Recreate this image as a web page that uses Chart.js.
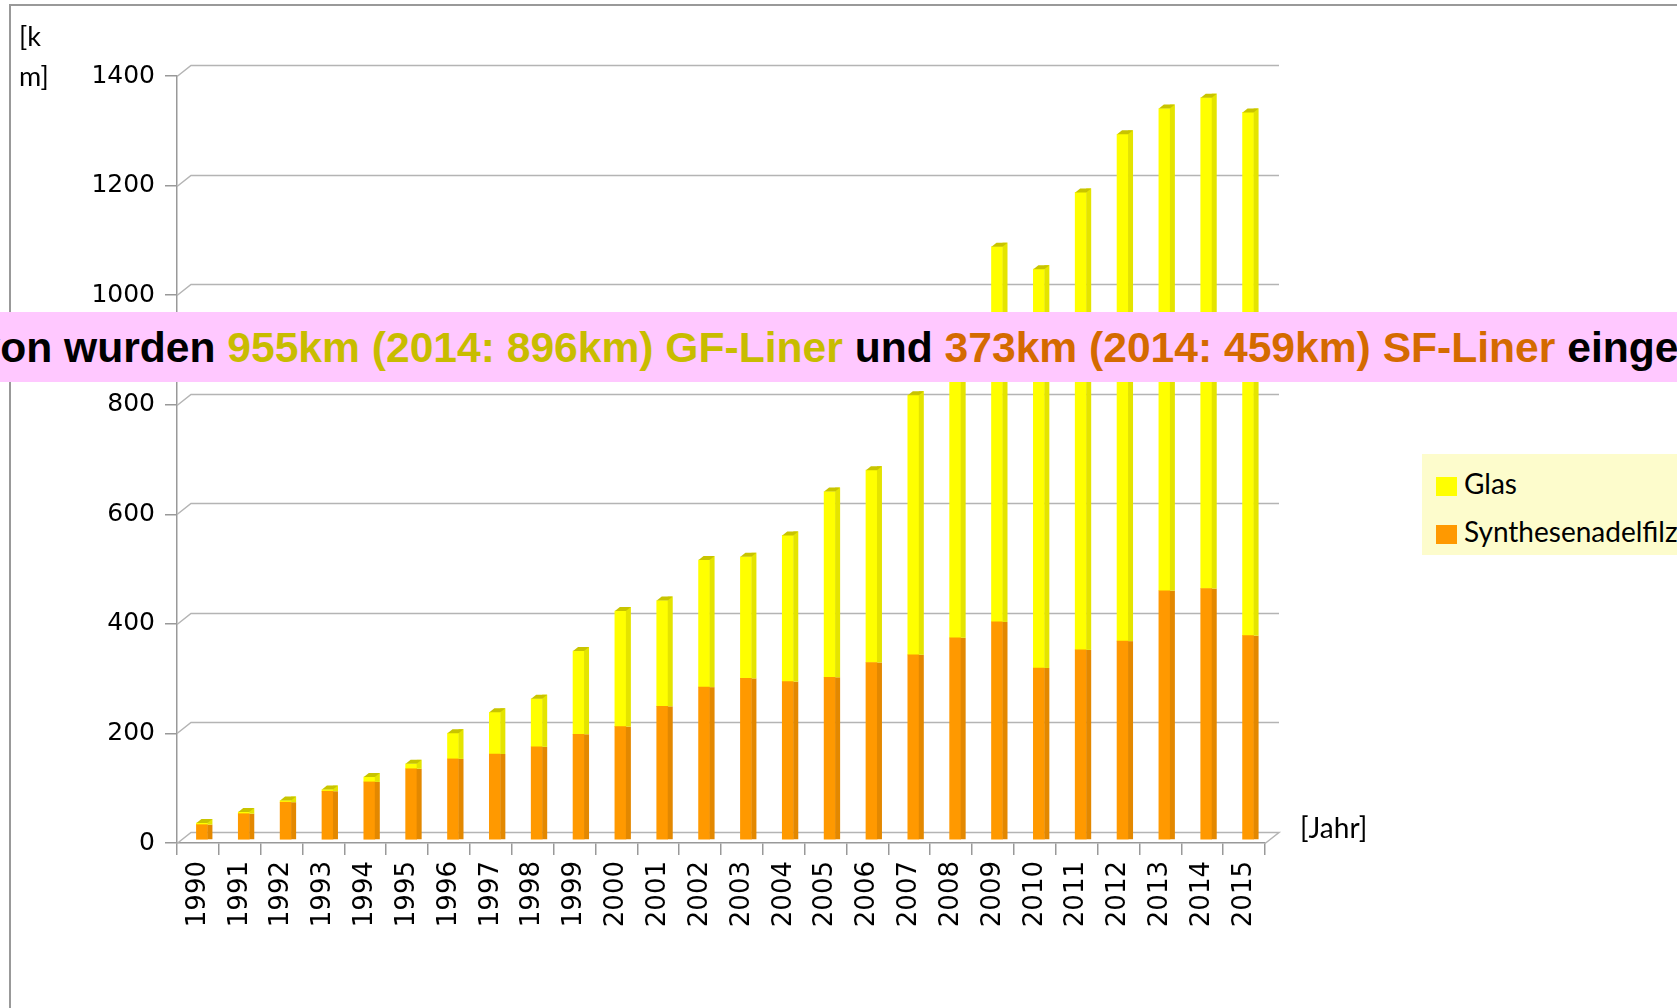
<!DOCTYPE html>
<html lang="de">
<head>
<meta charset="utf-8">
<title>Liner</title>
<script src="https://cdn.jsdelivr.net/npm/chart.js@4.4.1/dist/chart.umd.min.js"></script>
<style>
    html, body {
        margin: 0;
        padding: 0;
        width: 1677px;
        height: 1008px;
        overflow: hidden;
        background: #fff;
    }
    #frame {
        position: absolute;
        left: 9px;
        top: 4px;
        width: 1700px;
        height: 1100px;
        border-top: 2px solid #999;
        border-left: 2px solid #999;
    }
    #chartBox {
        position: absolute;
        left: 0;
        top: 0;
        width: 1677px;
        height: 1008px;
    }
    #unit {
        position: absolute;
        left: 19px;
        top: 16px;
        width: 34px;
        font: 27px Lato, sans-serif;
        line-height: 40px;
        word-break: break-all;
        color: #000;
    }
    #xunit {
        position: absolute;
        left: 1300px;
        top: 810px;
        font: 28px Lato, sans-serif;
        color: #000;
    }
    #legend {
        position: absolute;
        left: 1422px;
        top: 454px;
        width: 300px;
        height: 101px;
        background: #fdfccc;
        font: 28px Lato, sans-serif;
        color: #000;
        white-space: nowrap;
    }
    #legend .item {
        position: absolute;
        left: 14px;
        height: 32px;
        line-height: 32px;
    }
    #legend .swatch {
        display: inline-block;
        width: 21px;
        height: 19px;
        vertical-align: -2px;
        margin-right: 7px;
    }
    #banner {
        position: absolute;
        left: 0;
        top: 312px;
        width: 1677px;
        height: 70px;
        background: #ffc8ff;
        overflow: hidden;
    }
    #bannerText {
        position: absolute;
        top: 0;
        white-space: nowrap;
        font: bold 42.6px "Liberation Sans", Arial, sans-serif;
        line-height: 70px;
        color: #000;
    }
    .gf { color: #c8bc00; }
    .sf { color: #d46a00; }
</style>
</head>
<body>
<div id="frame"></div>
<div id="chartBox"><canvas id="linerChart" width="1677" height="1008"></canvas></div>
<div id="unit">[km]</div>
<div id="xunit">[Jahr]</div>
<div id="legend"></div>
<div id="banner">
    <div id="bannerText"><span id="cut">Dav</span>on wurden <span class="gf">955km (2014: 896km) GF-Liner</span> und <span class="sf">373km (2014: 459km) SF-Liner</span> eingebaut.</div>
</div>

<script>
// Years on the x axis
const years = ['1990', '1991', '1992', '1993', '1994', '1995', '1996', '1997', '1998', '1999',
    '2000', '2001', '2002', '2003', '2004', '2005', '2006', '2007', '2008', '2009',
    '2010', '2011', '2012', '2013', '2014', '2015'];

// Synthesenadelfilz (SF) liner, km per year
const sfValues = [28, 48, 69, 89, 106, 130, 148, 157, 170, 193,
    207, 244, 279, 295, 289, 297, 324, 338, 369, 398,
    314, 347, 363, 455, 459, 373];

// Glas (GF) liner, km per year
const glasValues = [3, 3, 3, 3, 9, 9, 47, 76, 88, 152,
    211, 193, 232, 222, 267, 339, 351, 474, 530, 685,
    728, 835, 925, 880, 896, 955];

// Y axis ticks
const yTicks = [0, 200, 400, 600, 800, 1000, 1200, 1400];

const seriesNames = ['Glas', 'Synthesenadelfilz'];

const colors = {
    glas: '#ffff00',
    glasSide: '#e4e400',
    glasTop: '#c8c400',
    sf: '#ff9900',
    sfSide: '#e38800',
    grid: '#b4b4b4',
    axis: '#999999'
};

// depth offset of the back wall, bars stand half way in
const DEPTH_X = 14;
const DEPTH_Y = 11;
const BAR_SHIFT_X = 4;
const BAR_SHIFT_Y = -3;
const SIDE = 5;

document.addEventListener('DOMContentLoaded', function() {
    placeBanner();
    buildLegend();
    initLinerChart();
});

// shift the banner text so the sentence starts just at the left edge
function placeBanner() {
    const cut = document.getElementById('cut');
    document.getElementById('bannerText').style.left = (-cut.offsetWidth) + 'px';
}

function buildLegend() {
    const legend = document.getElementById('legend');
    const swatches = [colors.glas, colors.sf];
    seriesNames.forEach((name, i) => {
        const item = document.createElement('div');
        item.className = 'item';
        item.style.top = (13 + i * 48) + 'px';
        item.innerHTML = '<span class="swatch" style="background:' + swatches[i] + '"></span>' + name;
        legend.appendChild(item);
    });
}

// back wall grid lines with a small diagonal, like the 3D original
const backWall = {
    id: 'backWall',
    beforeDatasetsDraw(chart) {
        const ctx = chart.ctx;
        const area = chart.chartArea;
        const y = chart.scales.y;
        ctx.save();
        ctx.strokeStyle = colors.grid;
        ctx.lineWidth = 1.5;
        yTicks.forEach(v => {
            const py = Math.round(y.getPixelForValue(v)) + 0.5;
            ctx.beginPath();
            ctx.moveTo(area.left, py);
            ctx.lineTo(area.left + DEPTH_X, py - DEPTH_Y);
            ctx.lineTo(area.right + DEPTH_X, py - DEPTH_Y);
            if (v === 0) {
                ctx.lineTo(area.right, py);
            }
            ctx.stroke();
        });
        ctx.restore();
        // bars are drawn a little into the depth
        ctx.save();
        ctx.translate(BAR_SHIFT_X, BAR_SHIFT_Y);
    },
    afterDatasetsDraw(chart) {
        // darker right side and top cap on each bar
        const ctx = chart.ctx;
        const sides = [colors.sfSide, colors.glasSide];
        chart.data.datasets.forEach((ds, di) => {
            const meta = chart.getDatasetMeta(di);
            meta.data.forEach(bar => {
                const p = bar.getProps(['x', 'y', 'base', 'width'], true);
                const right = p.x + p.width / 2;
                ctx.fillStyle = sides[di];
                ctx.fillRect(right, p.y - (di === 1 ? SIDE - 1 : 0), SIDE, p.base - p.y + (di === 1 ? SIDE - 1 : 0));
                if (di === chart.data.datasets.length - 1) {
                    const left = p.x - p.width / 2;
                    ctx.fillStyle = colors.glasTop;
                    ctx.beginPath();
                    ctx.moveTo(left, p.y);
                    ctx.lineTo(left + SIDE, p.y - SIDE + 1);
                    ctx.lineTo(right + SIDE, p.y - SIDE + 1);
                    ctx.lineTo(right, p.y);
                    ctx.closePath();
                    ctx.fill();
                }
            });
        });
        ctx.restore();
    }
};

function initLinerChart() {
    const ctx = document.getElementById('linerChart').getContext('2d');

    const linerData = {
        labels: years,
        datasets: [
            {
                label: seriesNames[1],
                data: sfValues,
                backgroundColor: colors.sf,
                barThickness: 11
            },
            {
                label: seriesNames[0],
                data: glasValues,
                backgroundColor: colors.glas,
                barThickness: 11
            }
        ]
    };

    new Chart(ctx, {
        type: 'bar',
        data: linerData,
        plugins: [backWall],
        options: {
            responsive: false,
            animation: false,
            layout: {
                padding: { top: 76, right: 412, bottom: 0, left: 0 }
            },
            plugins: {
                legend: { display: false },
                tooltip: { enabled: false }
            },
            scales: {
                x: {
                    stacked: true,
                    afterFit: scale => { scale.height = 165; },
                    ticks: {
                        minRotation: 90,
                        maxRotation: 90,
                        padding: 6,
                        color: '#000',
                        font: { family: 'DejaVu Sans', size: 26 }
                    },
                    grid: {
                        offset: true,
                        drawOnChartArea: false,
                        tickLength: 12,
                        color: colors.axis,
                        lineWidth: 1.5
                    },
                    border: { color: colors.axis, width: 1.5 }
                },
                y: {
                    stacked: true,
                    min: 0,
                    max: 1400,
                    afterFit: scale => { scale.width = 177; },
                    afterBuildTicks: scale => {
                        scale.ticks = yTicks.map(v => ({ value: v }));
                    },
                    ticks: {
                        padding: 10,
                        color: '#000',
                        font: { family: 'DejaVu Sans', size: 25 },
                        callback: value => String(value)
                    },
                    grid: {
                        drawOnChartArea: false,
                        tickLength: 12,
                        color: colors.axis,
                        lineWidth: 1.5
                    },
                    border: { color: colors.axis, width: 1.5 }
                }
            }
        }
    });
}
</script>
</body>
</html>
